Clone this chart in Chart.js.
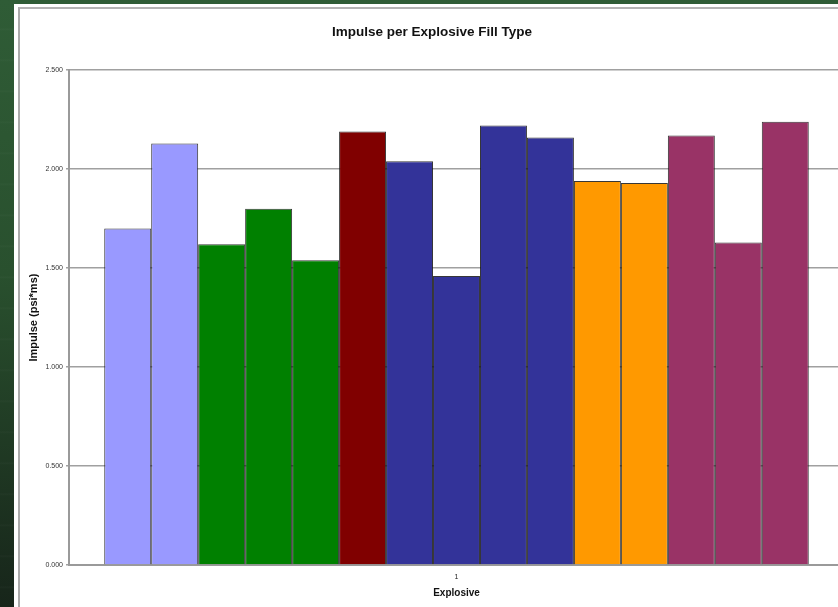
<!DOCTYPE html>
<html>
<head>
<meta charset="utf-8">
<script src="https://cdn.jsdelivr.net/npm/chart.js@4"></script>
<style>
  html, body { margin: 0; padding: 0; }
  body {
    width: 838px; height: 607px; overflow: hidden; position: relative;
    background:
      repeating-linear-gradient(180deg, rgba(255,255,255,0) 0px, rgba(255,255,255,0) 28px, rgba(255,255,255,0.025) 29px, rgba(255,255,255,0) 31px),
      linear-gradient(180deg, #2f5c36 0%, #29502e 45%, #17251a 100%);
  }
  #sheet { position: absolute; left: 14px; top: 4px; width: 900px; height: 700px; background: #fff; }
  #frame { position: absolute; left: 18px; top: 7px; width: 900px; height: 700px;
           border-left: 2px solid #ababab; border-top: 2px solid #b3b3b3; background: #fff; }
  #wrap { position: absolute; left: 20px; top: 9px; width: 826px; height: 600px; }
</style>
</head>
<body>
<div id="sheet"></div>
<div id="frame"></div>
<div id="wrap"><canvas id="c"></canvas></div>
<script>
// Single category on the x axis, one bar per explosive fill
const categories = ['1'];
const impulse = [1.70, 2.13, 1.62, 1.80, 1.54, 2.19, 2.04, 1.46, 2.22, 2.16, 1.94, 1.93, 2.17, 1.63, 2.24];
const fillColors = ['#9999FF', '#9999FF', '#008000', '#008000', '#008000', '#800000',
                    '#333399', '#333399', '#333399', '#333399', '#FF9900', '#FF9900',
                    '#993366', '#993366', '#993366'];
const yTicks = [0, 0.5, 1.0, 1.5, 2.0, 2.5];

const FONT = '"Liberation Sans", Arial, sans-serif';

const datasets = impulse.map((v, i) => ({
  label: 'Fill ' + (i + 1),
  data: [v],
  backgroundColor: fillColors[i],
  borderColor: 'rgba(20,20,20,0.85)',
  borderWidth: 1,
  categoryPercentage: 15 / 16.5,
  barPercentage: 1.0
}));

new Chart(document.getElementById('c'), {
  type: 'bar',
  data: { labels: categories, datasets },
  options: {
    responsive: true,
    maintainAspectRatio: false,
    animation: false,
    layout: { padding: { left: 0, right: 2, top: 0, bottom: 0 } },
    plugins: {
      legend: { display: false },
      tooltip: { enabled: false },
      title: {
        display: true,
        text: 'Impulse per Explosive Fill Type',
        color: '#111',
        font: { family: FONT, size: 13.5, weight: 'bold' },
        padding: { top: 15, bottom: 30 }
      }
    },
    scales: {
      x: {
        grid: { display: false, drawTicks: false },
        border: { display: true, color: '#9a9a9a', width: 2 },
        ticks: { color: '#222', font: { family: FONT, size: 7 }, padding: 8 },
        title: {
          display: true, text: 'Explosive', color: '#111',
          font: { family: FONT, size: 10, weight: 'bold' },
          padding: { top: 0, bottom: 10 }
        },
        afterFit: (s) => { s.height = 44; }
      },
      y: {
        min: 0, max: 2.5,
        afterBuildTicks: (s) => { s.ticks = yTicks.map(v => ({ value: v })); },
        grid: { color: '#a0a0a0', lineWidth: 1.5, tickLength: 3, drawTicks: true },
        border: { display: true, color: '#9a9a9a', width: 2 },
        ticks: {
          color: '#333', font: { family: FONT, size: 7 }, padding: 3,
          callback: (v) => Number(v).toFixed(3)
        },
        title: {
          display: true, text: 'Impulse (psi*ms)', color: '#111',
          font: { family: FONT, size: 11, weight: 'bold' },
          padding: { top: 7, bottom: 0 }
        },
        afterFit: (s) => { s.width = 49; }
      }
    }
  }
});
</script>
</body>
</html>
